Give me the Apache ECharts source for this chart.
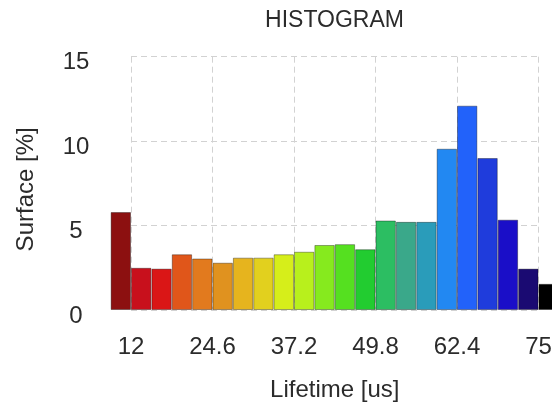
<!DOCTYPE html>
<html>
<head>
<meta charset="utf-8">
<script src="https://cdn.jsdelivr.net/npm/echarts@6/dist/echarts.min.js"></script>
<style>
html, body { margin: 0; padding: 0; background: #fff; }
#chart { width: 552px; height: 402px; }
</style>
</head>
<body>
<div id="chart"></div>
<script>
// Bin centres (lifetime, us) and surface share (%)
var lifetimes = [10.425, 13.575, 16.725, 19.875, 23.025, 26.175, 29.325, 32.475, 35.625, 38.775, 41.925,
                 45.075, 48.225, 51.375, 54.525, 57.675, 60.825, 63.975, 67.125, 70.275, 73.425, 76.575];
var surface = [5.8, 2.5, 2.45, 3.3, 3.05, 2.8, 3.1, 3.1, 3.3, 3.45, 3.85,
               3.9, 3.6, 5.3, 5.22, 5.22, 9.55, 12.1, 9.0, 5.35, 2.45, 1.55];
var barColors = ['#8c1010', '#c8101c', '#da1616', '#e0561a', '#e27a1e', '#e0921f', '#e6b41e', '#e2d01e',
                 '#d6ee1a', '#b8f01c', '#86ea1e', '#55e020', '#22cc30', '#2cbe62', '#3aa88a', '#2a9cba',
                 '#2288f2', '#2262fa', '#1f3cdc', '#1a0ec8', '#1a0a72', '#000000'];
var xTickLabels = ['12', '24.6', '37.2', '49.8', '62.4', '75'];
var yTickLabels = ['0', '5', '10', '15'];

var xMin = 12, xMax = 75, xStep = 12.6;

var data = lifetimes.map(function (x, i) {
  return { value: [x, surface[i]], itemStyle: { color: barColors[i] } };
});

var font = '"Liberation Sans", Arial, Helvetica, sans-serif';
var chart = echarts.init(document.getElementById('chart'), null, { renderer: 'canvas' });
chart.setOption({
  animation: false,
  backgroundColor: '#ffffff',
  title: {
    text: 'HISTOGRAM',
    left: 334.5,
    top: 9,
    padding: 0,
    textAlign: 'center',
    textStyle: { fontFamily: font, fontSize: 23, fontWeight: 'normal', color: '#2b2b2b' }
  },
  grid: { left: 131, right: 13.5, top: 56.7, bottom: 92, containLabel: false, outerBoundsMode: 'none' },
  xAxis: {
    type: 'value',
    min: xMin,
    max: xMax,
    interval: xStep,
    name: 'Lifetime [us]',
    nameLocation: 'middle',
    nameGap: 68.5,
    nameTextStyle: { fontFamily: font, fontSize: 24, color: '#2b2b2b' },
    axisLine: { show: false },
    axisTick: { show: false },
    axisLabel: {
      fontFamily: font, fontSize: 24, color: '#2b2b2b', margin: 25, hideOverlap: false,
      formatter: function (v) { return xTickLabels[Math.round((v - xMin) / xStep)]; }
    },
    splitLine: { show: true, lineStyle: { color: '#d2d2d2', type: [6, 4], width: 1 } }
  },
  yAxis: {
    type: 'value',
    min: 0,
    max: 15,
    interval: 5,
    name: 'Surface [%]',
    nameLocation: 'middle',
    nameGap: 92.5,
    nameTextStyle: { fontFamily: font, fontSize: 24, color: '#2b2b2b', padding: [0, 12, 0, 0] },
    axisLine: { show: false },
    axisTick: { show: false },
    axisLabel: {
      fontFamily: font, fontSize: 24, color: '#2b2b2b', margin: 55, align: 'center',
      verticalAlign: 'top', lineHeight: 12,
      formatter: function (v) { return yTickLabels[Math.round(v / 5)]; }
    },
    splitLine: { show: true, lineStyle: { color: '#d2d2d2', type: [6, 4], width: 1 } }
  },
  series: [{
    type: 'bar',
    data: data,
    barWidth: '100%',
    clip: false,
    itemStyle: { borderColor: 'rgba(0,0,0,0.35)', borderWidth: 1 }
  }]
});
</script>
</body>
</html>
